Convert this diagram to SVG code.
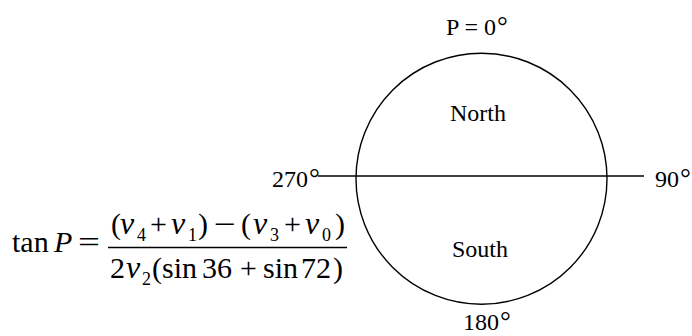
<svg xmlns="http://www.w3.org/2000/svg" width="692" height="336" viewBox="0 0 692 336">
<style>
.t{font-family:"Liberation Serif","Times New Roman",serif;font-size:24px;fill:#000}
.d{font-size:27px}
.m{font-family:"Liberation Serif","Times New Roman",serif;font-size:30px;fill:#000}
.i{font-style:italic}
.n{font-size:32px}
.s{font-size:18px}
.ln{stroke:#000;stroke-width:1.4;fill:none}
</style>
<rect width="692" height="336" fill="#fff"/>
<g id="connectors">
<line class="ln" x1="318" y1="176" x2="644" y2="176"/>
</g>
<g id="circle">
<circle class="ln" cx="481.5" cy="178.7" r="125.5"/>
</g>
<g id="labels">
<text class="t" x="446" y="35">P = 0<tspan class="d" dx="1">°</tspan></text>
<text class="t" x="450" y="121">North</text>
<text class="t" x="452" y="257">South</text>
<text class="t" x="272" y="187">270<tspan class="d" dx="1">°</tspan></text>
<text class="t" x="655" y="187">90<tspan class="d" dx="1">°</tspan></text>
<text class="t" x="463" y="330">180<tspan class="d" dx="1">°</tspan></text>
</g>
<g id="formula">
<text class="m" x="12" y="252">tan</text>
<text class="m i" x="54" y="252">P</text>
<text class="m" x="78" y="252" textLength="22" lengthAdjust="spacingAndGlyphs">=</text>
<line class="ln" x1="108" y1="247.5" x2="347" y2="247.5"/>
<text class="m" x="111" y="234">(</text>
<text class="m i n" x="120" y="234">ν</text>
<text class="m s" x="137" y="241">4</text>
<text class="m" x="150" y="234">+</text>
<text class="m i n" x="171" y="234">ν</text>
<text class="m s" x="188" y="241">1</text>
<text class="m" x="198" y="234">)</text>
<text class="m" x="214" y="234" textLength="22" lengthAdjust="spacingAndGlyphs">−</text>
<text class="m" x="241" y="234">(</text>
<text class="m i n" x="253" y="234">ν</text>
<text class="m s" x="270" y="241">3</text>
<text class="m" x="284" y="234">+</text>
<text class="m i n" x="305" y="234">ν</text>
<text class="m s" x="322" y="241">0</text>
<text class="m" x="335" y="234">)</text>
<text class="m" x="110" y="278">2</text>
<text class="m i n" x="126" y="278">ν</text>
<text class="m s" x="142" y="285">2</text>
<text class="m" x="152" y="278">(</text>
<text class="m" x="162" y="278">sin</text>
<text class="m" x="202" y="278">36</text>
<text class="m" x="240" y="278">+</text>
<text class="m" x="263" y="278">sin</text>
<text class="m" x="301" y="278">72</text>
<text class="m" x="333" y="278">)</text>
</g>
</svg>
